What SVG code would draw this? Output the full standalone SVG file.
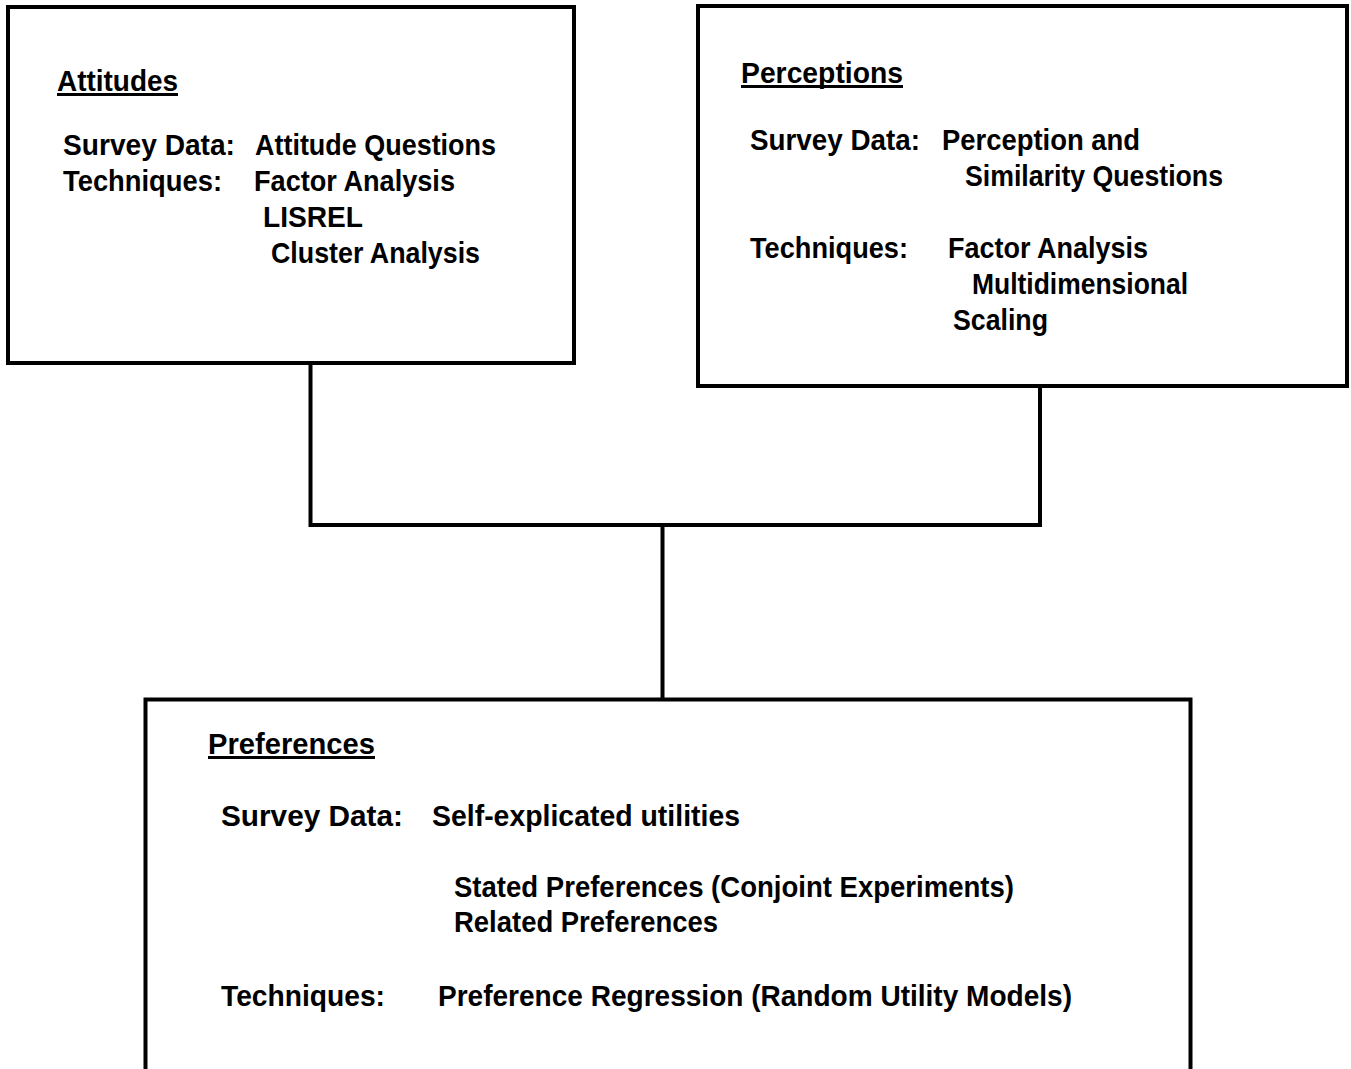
<svg xmlns="http://www.w3.org/2000/svg" width="1351" height="1069" viewBox="0 0 1351 1069">
  <style>
    .box { fill: #fff; stroke: #000; stroke-width: 4; }
    .wire { fill: none; stroke: #000; stroke-width: 4; }
    .uline { stroke: #000; stroke-width: 3; }
    text { font-family: "Liberation Sans", Arial, Helvetica, sans-serif; font-size: 30px; font-weight: bold; fill: #000; }
  </style>
  <rect width="1351" height="1069" fill="#fff"/>

  <!-- connectors joining the two upper boxes to the lower one -->
  <g id="connectors">
    <polyline class="wire" points="310.5,365 310.5,525 1040,525 1040,388"/>
    <line class="wire" x1="662.5" y1="525" x2="662.5" y2="699"/>
  </g>

  <g id="attitudes">
    <rect class="box" x="8" y="7" width="566" height="356"/>
    <text x="57" y="91" textLength="121" lengthAdjust="spacingAndGlyphs">Attitudes</text>
    <line class="uline" x1="57" y1="94.5" x2="178" y2="94.5"/>
    <text x="63" y="155" textLength="172" lengthAdjust="spacingAndGlyphs">Survey Data:</text>
    <text x="255" y="155" textLength="241" lengthAdjust="spacingAndGlyphs">Attitude Questions</text>
    <text x="63" y="191" textLength="159" lengthAdjust="spacingAndGlyphs">Techniques:</text>
    <text x="254" y="191" textLength="201" lengthAdjust="spacingAndGlyphs">Factor Analysis</text>
    <text x="263" y="227" textLength="100" lengthAdjust="spacingAndGlyphs">LISREL</text>
    <text x="271" y="263" textLength="209" lengthAdjust="spacingAndGlyphs">Cluster Analysis</text>
  </g>

  <g id="perceptions">
    <rect class="box" x="698" y="6" width="649" height="380"/>
    <text x="741" y="83" textLength="162" lengthAdjust="spacingAndGlyphs">Perceptions</text>
    <line class="uline" x1="741" y1="86.5" x2="903" y2="86.5"/>
    <text x="750" y="150" textLength="170" lengthAdjust="spacingAndGlyphs">Survey Data:</text>
    <text x="942" y="150" textLength="198" lengthAdjust="spacingAndGlyphs">Perception and</text>
    <text x="965" y="186" textLength="258" lengthAdjust="spacingAndGlyphs">Similarity Questions</text>
    <text x="750" y="258" textLength="158" lengthAdjust="spacingAndGlyphs">Techniques:</text>
    <text x="948" y="258" textLength="200" lengthAdjust="spacingAndGlyphs">Factor Analysis</text>
    <text x="972" y="294" textLength="216" lengthAdjust="spacingAndGlyphs">Multidimensional</text>
    <text x="953" y="330" textLength="95" lengthAdjust="spacingAndGlyphs">Scaling</text>
  </g>

  <g id="preferences">
    <rect class="box" x="145.5" y="699.5" width="1045" height="400"/>
    <text x="208" y="754" textLength="167" lengthAdjust="spacingAndGlyphs">Preferences</text>
    <line class="uline" x1="208" y1="757.5" x2="375" y2="757.5"/>
    <text x="221" y="826" textLength="182" lengthAdjust="spacingAndGlyphs">Survey  Data:</text>
    <text x="432" y="826" textLength="308" lengthAdjust="spacingAndGlyphs">Self-explicated  utilities</text>
    <text x="454" y="897" textLength="560" lengthAdjust="spacingAndGlyphs">Stated Preferences (Conjoint Experiments)</text>
    <text x="454" y="932" textLength="264" lengthAdjust="spacingAndGlyphs">Related Preferences</text>
    <text x="221" y="1006" textLength="164" lengthAdjust="spacingAndGlyphs">Techniques:</text>
    <text x="438" y="1006" textLength="634" lengthAdjust="spacingAndGlyphs">Preference Regression (Random Utility Models)</text>
  </g>
</svg>
